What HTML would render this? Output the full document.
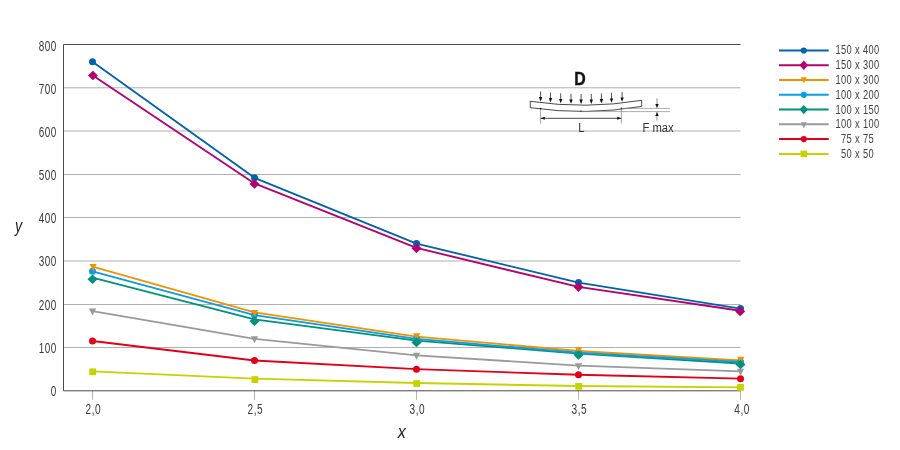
<!DOCTYPE html>
<html><head><meta charset="utf-8"><title>Chart</title>
<style>
html,body{margin:0;padding:0;background:#fff;}
body{width:900px;height:450px;overflow:hidden;}
svg{display:block;font-family:"Liberation Sans",sans-serif;}
.t{font-size:14px;fill:#3a3a3a;letter-spacing:0.7px;}
.lg{font-size:12.3px;fill:#404040;letter-spacing:0.5px;}
</style></head><body>
<svg width="900" height="450" viewBox="0 0 900 450">
<rect width="900" height="450" fill="#fff"/>

<line x1="63.5" y1="347.50" x2="740.5" y2="347.50" stroke="#b0b0b0" stroke-width="1"/>
<line x1="63.5" y1="304.50" x2="740.5" y2="304.50" stroke="#b0b0b0" stroke-width="1"/>
<line x1="63.5" y1="261.00" x2="740.5" y2="261.00" stroke="#b0b0b0" stroke-width="1"/>
<line x1="63.5" y1="217.50" x2="740.5" y2="217.50" stroke="#b0b0b0" stroke-width="1"/>
<line x1="63.5" y1="174.50" x2="740.5" y2="174.50" stroke="#b0b0b0" stroke-width="1"/>
<line x1="63.5" y1="131.00" x2="740.5" y2="131.00" stroke="#b0b0b0" stroke-width="1"/>
<line x1="63.5" y1="87.80" x2="740.5" y2="87.80" stroke="#b0b0b0" stroke-width="1"/>
<line x1="92.5" y1="390.8" x2="92.5" y2="399.8" stroke="#b4b4b4" stroke-width="1"/>
<line x1="254.5" y1="390.8" x2="254.5" y2="399.8" stroke="#b4b4b4" stroke-width="1"/>
<line x1="416.5" y1="390.8" x2="416.5" y2="399.8" stroke="#b4b4b4" stroke-width="1"/>
<line x1="578.5" y1="390.8" x2="578.5" y2="399.8" stroke="#b4b4b4" stroke-width="1"/>
<line x1="740.5" y1="390.8" x2="740.5" y2="399.8" stroke="#b4b4b4" stroke-width="1"/>
<path d="M740.5 44.50H63.5V390.8H740.5" fill="none" stroke="#4a4a4a" stroke-width="1"/>
<text class="t" transform="translate(56.7 395.9) scale(0.71 1)" text-anchor="end">0</text>
<text class="t" transform="translate(56.7 352.7) scale(0.71 1)" text-anchor="end">100</text>
<text class="t" transform="translate(56.7 309.6) scale(0.71 1)" text-anchor="end">200</text>
<text class="t" transform="translate(56.7 266.4) scale(0.71 1)" text-anchor="end">300</text>
<text class="t" transform="translate(56.7 223.2) scale(0.71 1)" text-anchor="end">400</text>
<text class="t" transform="translate(56.7 180.0) scale(0.71 1)" text-anchor="end">500</text>
<text class="t" transform="translate(56.7 136.8) scale(0.71 1)" text-anchor="end">600</text>
<text class="t" transform="translate(56.7 93.7) scale(0.71 1)" text-anchor="end">700</text>
<text class="t" transform="translate(56.7 50.5) scale(0.71 1)" text-anchor="end">800</text>
<text class="t" transform="translate(93.3 413.5) scale(0.72 1)" text-anchor="middle">2,0</text>
<text class="t" transform="translate(255.3 413.5) scale(0.72 1)" text-anchor="middle">2,5</text>
<text class="t" transform="translate(417.3 413.5) scale(0.72 1)" text-anchor="middle">3,0</text>
<text class="t" transform="translate(579.3 413.5) scale(0.72 1)" text-anchor="middle">3,5</text>
<text class="t" transform="translate(742.1 413.5) scale(0.72 1)" text-anchor="middle">4,0</text>
<text transform="translate(18.6 231.5) scale(0.77 1)" text-anchor="middle" font-size="18.6" font-style="italic" fill="#222">y</text>
<text transform="translate(401.7 438.3) scale(0.85 1)" text-anchor="middle" font-size="19" font-style="italic" fill="#222">x</text>
<polyline points="92.5,371.32 254.5,378.68 416.5,383.01 578.5,386.04 740.5,387.34" fill="none" stroke="#c7d300" stroke-width="1.85" stroke-linejoin="round"/>
<polyline points="92.5,341.02 254.5,360.50 416.5,369.16 578.5,374.78 740.5,378.68" fill="none" stroke="#e2001a" stroke-width="1.85" stroke-linejoin="round"/>
<polyline points="92.5,311.15 254.5,338.85 416.5,355.30 578.5,365.69 740.5,371.32" fill="none" stroke="#999a9c" stroke-width="1.85" stroke-linejoin="round"/>
<polyline points="92.5,266.56 254.5,312.45 416.5,336.69 578.5,350.98 740.5,360.50" fill="none" stroke="#f39100" stroke-width="1.85" stroke-linejoin="round"/>
<polyline points="92.5,277.60 254.5,319.37 416.5,340.59 578.5,353.57 740.5,363.53" fill="none" stroke="#00927d" stroke-width="1.85" stroke-linejoin="round"/>
<polyline points="92.5,271.33 254.5,315.05 416.5,338.85 578.5,352.71 740.5,361.80" fill="none" stroke="#0c9de0" stroke-width="1.85" stroke-linejoin="round"/>
<polyline points="92.5,75.23 254.5,183.45 416.5,247.95 578.5,286.91 740.5,310.72" fill="none" stroke="#b5006e" stroke-width="1.85" stroke-linejoin="round"/>
<polyline points="92.5,61.81 254.5,177.82 416.5,243.62 578.5,282.58 740.5,308.55" fill="none" stroke="#0062ae" stroke-width="1.85" stroke-linejoin="round"/>
<circle cx="92.50" cy="61.81" r="3.5" fill="#0062ae"/>
<circle cx="254.50" cy="177.82" r="3.5" fill="#0062ae"/>
<circle cx="416.50" cy="243.62" r="3.5" fill="#0062ae"/>
<circle cx="578.50" cy="282.58" r="3.5" fill="#0062ae"/>
<circle cx="740.50" cy="308.55" r="3.5" fill="#0062ae"/>
<circle cx="92.50" cy="271.33" r="3.5" fill="#0c9de0"/>
<circle cx="254.50" cy="315.05" r="3.5" fill="#0c9de0"/>
<circle cx="416.50" cy="338.85" r="3.5" fill="#0c9de0"/>
<circle cx="578.50" cy="352.71" r="3.5" fill="#0c9de0"/>
<circle cx="740.50" cy="361.80" r="3.5" fill="#0c9de0"/>
<circle cx="92.50" cy="341.02" r="3.5" fill="#e2001a"/>
<circle cx="254.50" cy="360.50" r="3.5" fill="#e2001a"/>
<circle cx="416.50" cy="369.16" r="3.5" fill="#e2001a"/>
<circle cx="578.50" cy="374.78" r="3.5" fill="#e2001a"/>
<circle cx="740.50" cy="378.68" r="3.5" fill="#e2001a"/>
<path d="M89.45 264.01L96.75 264.01L93.10 270.91Z" fill="#f39100"/>
<path d="M251.05 309.90L258.35 309.90L254.70 316.80Z" fill="#f39100"/>
<path d="M413.05 333.14L420.35 333.14L416.70 340.04Z" fill="#f39100"/>
<path d="M575.05 347.23L582.35 347.23L578.70 354.13Z" fill="#f39100"/>
<path d="M737.05 356.85L744.35 356.85L740.70 363.75Z" fill="#f39100"/>
<path d="M88.85 308.60L96.15 308.60L92.50 315.50Z" fill="#999a9c"/>
<path d="M250.85 336.30L258.15 336.30L254.50 343.20Z" fill="#999a9c"/>
<path d="M412.85 352.75L420.15 352.75L416.50 359.65Z" fill="#999a9c"/>
<path d="M574.85 363.14L582.15 363.14L578.50 370.04Z" fill="#999a9c"/>
<path d="M736.85 368.77L744.15 368.77L740.50 375.67Z" fill="#999a9c"/>
<path d="M92.90 70.73L97.90 75.53L92.90 80.33L87.90 75.53Z" fill="#b5006e"/>
<path d="M254.50 179.15L259.50 183.95L254.50 188.75L249.50 183.95Z" fill="#b5006e"/>
<path d="M416.50 243.55L421.50 248.35L416.50 253.15L411.50 248.35Z" fill="#b5006e"/>
<path d="M578.50 282.31L583.50 287.11L578.50 291.91L573.50 287.11Z" fill="#b5006e"/>
<path d="M740.20 306.62L745.20 311.42L740.20 316.22L735.20 311.42Z" fill="#b5006e"/>
<path d="M92.50 274.40L97.50 279.20L92.50 284.00L87.50 279.20Z" fill="#00927d"/>
<path d="M254.50 316.37L259.50 321.17L254.50 325.97L249.50 321.17Z" fill="#00927d"/>
<path d="M416.50 337.59L421.50 342.39L416.50 347.19L411.50 342.39Z" fill="#00927d"/>
<path d="M578.50 350.27L583.50 355.07L578.50 359.87L573.50 355.07Z" fill="#00927d"/>
<path d="M740.50 359.73L745.50 364.53L740.50 369.33L735.50 364.53Z" fill="#00927d"/>
<rect x="89.30" y="368.42" width="6.80" height="6.80" fill="#c7d300"/>
<rect x="251.50" y="376.18" width="6.80" height="6.80" fill="#c7d300"/>
<rect x="413.30" y="380.11" width="6.80" height="6.80" fill="#c7d300"/>
<rect x="575.30" y="382.94" width="6.80" height="6.80" fill="#c7d300"/>
<rect x="737.10" y="383.94" width="6.80" height="6.80" fill="#c7d300"/>
<line x1="779" y1="50.5" x2="828.7" y2="50.5" stroke="#0062ae" stroke-width="2"/>
<circle cx="803.80" cy="50.50" r="3.1" fill="#0062ae"/>
<text class="lg" transform="translate(857.5 54.4) scale(0.755 1)" text-anchor="middle">150 x 400</text>
<line x1="779" y1="65.3" x2="828.7" y2="65.3" stroke="#b5006e" stroke-width="2"/>
<path d="M803.80 60.57L808.00 65.27L803.80 69.97L799.60 65.27Z" fill="#b5006e"/>
<text class="lg" transform="translate(857.5 69.2) scale(0.755 1)" text-anchor="middle">150 x 300</text>
<line x1="779" y1="80.0" x2="828.7" y2="80.0" stroke="#f39100" stroke-width="2"/>
<path d="M800.80 77.24L806.80 77.24L803.80 83.54Z" fill="#f39100"/>
<text class="lg" transform="translate(857.5 83.9) scale(0.755 1)" text-anchor="middle">100 x 300</text>
<line x1="779" y1="94.8" x2="828.7" y2="94.8" stroke="#0c9de0" stroke-width="2"/>
<circle cx="803.80" cy="94.81" r="3.1" fill="#0c9de0"/>
<text class="lg" transform="translate(857.5 98.7) scale(0.755 1)" text-anchor="middle">100 x 200</text>
<line x1="779" y1="109.6" x2="828.7" y2="109.6" stroke="#00927d" stroke-width="2"/>
<path d="M803.80 104.88L808.00 109.58L803.80 114.28L799.60 109.58Z" fill="#00927d"/>
<text class="lg" transform="translate(857.5 113.5) scale(0.755 1)" text-anchor="middle">100 x 150</text>
<line x1="779" y1="124.3" x2="828.7" y2="124.3" stroke="#999a9c" stroke-width="2"/>
<path d="M800.80 122.20L806.80 122.20L803.80 128.50Z" fill="#999a9c"/>
<text class="lg" transform="translate(857.5 128.2) scale(0.755 1)" text-anchor="middle">100 x 100</text>
<line x1="779" y1="139.1" x2="828.7" y2="139.1" stroke="#e2001a" stroke-width="2"/>
<circle cx="803.80" cy="139.12" r="3.1" fill="#e2001a"/>
<text class="lg" transform="translate(857.5 143.0) scale(0.755 1)" text-anchor="middle">75 x 75</text>
<line x1="779" y1="153.9" x2="828.7" y2="153.9" stroke="#c7d300" stroke-width="2"/>
<rect x="800.55" y="150.64" width="6.50" height="6.50" fill="#c7d300"/>
<text class="lg" transform="translate(857.5 157.8) scale(0.755 1)" text-anchor="middle">50 x 50</text>
<g id="inset" fill="none" stroke="#1a1a1a" stroke-width="0.8">
<text transform="translate(579.9 84.5) scale(0.9 1)" text-anchor="middle" font-size="17.6" font-weight="bold" fill="#111" stroke="#111" stroke-width="0.4">D</text>
<path d="M530.3 101.3 Q586 109.6 641.7 100.3 L641.7 106.4 Q586 115.8 530.3 107.7 Z"/>

<line x1="540.6" y1="91.5" x2="540.6" y2="99.7" stroke-width="0.75"/>
<path d="M538.9 97.1L542.3 97.1L540.6 101.5Z" fill="#111" stroke="none"/>
<line x1="550.5" y1="92.5" x2="550.5" y2="100.7" stroke-width="0.75"/>
<path d="M548.8 98.1L552.2 98.1L550.5 102.5Z" fill="#111" stroke="none"/>
<line x1="560.7" y1="93.3" x2="560.7" y2="101.5" stroke-width="0.75"/>
<path d="M559.0 98.9L562.4 98.9L560.7 103.3Z" fill="#111" stroke="none"/>
<line x1="571" y1="93.8" x2="571" y2="102.0" stroke-width="0.75"/>
<path d="M569.3 99.4L572.7 99.4L571 103.8Z" fill="#111" stroke="none"/>
<line x1="581.1" y1="94.0" x2="581.1" y2="102.2" stroke-width="0.75"/>
<path d="M579.4 99.6L582.8 99.6L581.1 104.0Z" fill="#111" stroke="none"/>
<line x1="591.3" y1="93.9" x2="591.3" y2="102.1" stroke-width="0.75"/>
<path d="M589.6 99.5L593.0 99.5L591.3 103.9Z" fill="#111" stroke="none"/>
<line x1="601.4" y1="93.5" x2="601.4" y2="101.7" stroke-width="0.75"/>
<path d="M599.7 99.1L603.1 99.1L601.4 103.5Z" fill="#111" stroke="none"/>
<line x1="611.5" y1="92.8" x2="611.5" y2="101.0" stroke-width="0.75"/>
<path d="M609.8 98.4L613.2 98.4L611.5 102.8Z" fill="#111" stroke="none"/>
<line x1="622.1" y1="91.8" x2="622.1" y2="100.0" stroke-width="0.75"/>
<path d="M620.4 97.4L623.8 97.4L622.1 101.8Z" fill="#111" stroke="none"/>
<line x1="540.6" y1="108.8" x2="540.6" y2="123.6" stroke="#666" stroke-width="0.6"/>
<line x1="621.4" y1="108.5" x2="621.4" y2="123.6" stroke="#666" stroke-width="0.6"/>
<line x1="541" y1="118.3" x2="621" y2="118.3" stroke-width="0.8"/>
<path d="M540.8 118.3L544.8 116.8L544.8 119.8Z" fill="#111" stroke="none"/>
<path d="M621.2 118.3L617.2 116.8L617.2 119.8Z" fill="#111" stroke="none"/>
<circle cx="581.1" cy="111.3" r="0.8" fill="#111" stroke="none"/>
<circle cx="540.6" cy="108.6" r="0.8" fill="#111" stroke="none"/>
<circle cx="621.4" cy="108.3" r="0.8" fill="#111" stroke="none"/>
<line x1="621.6" y1="108.4" x2="670" y2="108.4" stroke="#8a8a8a" stroke-width="0.7"/>
<line x1="581" y1="111.6" x2="670" y2="111.6" stroke="#8a8a8a" stroke-width="0.7"/>
<line x1="657" y1="98.3" x2="657" y2="106" stroke="#777" stroke-width="0.8"/>
<line x1="657" y1="114" x2="657" y2="120.7" stroke="#777" stroke-width="0.8"/>
<path d="M657 108.3L655.3 103.9L658.7 103.9Z" fill="#111" stroke="none"/>
<path d="M657 111.7L655.3 116.1L658.7 116.1Z" fill="#111" stroke="none"/>
<text transform="translate(581.5 131.8) scale(0.86 1)" text-anchor="middle" font-size="13.1" fill="#333" stroke="none">L</text>
<text transform="translate(658.1 131.8) scale(0.86 1)" text-anchor="middle" font-size="13.1" fill="#333" stroke="none">F max</text>
</g>

</svg></body></html>
